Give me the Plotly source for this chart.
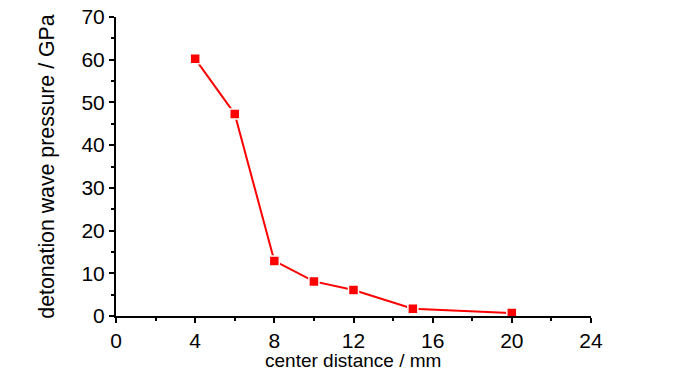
import plotly.graph_objects as go

center_distance_mm = [4, 6, 8, 10, 12, 15, 20]
pressure_gpa = [60.2, 47.3, 12.9, 8.1, 6.1, 1.7, 0.7]

x_tick_vals = [0, 4, 8, 12, 16, 20, 24]
y_tick_vals = [0, 10, 20, 30, 40, 50, 60, 70]

FONT = "Liberation Sans Narrow, Arial Narrow, Liberation Sans, Arial, sans-serif"

fig = go.Figure()
fig.add_trace(go.Scatter(
    x=center_distance_mm, y=pressure_gpa,
    mode="lines+markers",
    line=dict(color="#FF0000", width=2),
    marker=dict(symbol="square", size=10, color="#FF0000",
                line=dict(color="white", width=1.5)),
    showlegend=False,
    cliponaxis=False,
))

axis_common = dict(
    showgrid=False, zeroline=False, showline=True, linecolor="black", linewidth=2,
    ticks="outside", ticklen=5, tickwidth=2, tickcolor="black",
    tickfont=dict(family=FONT, size=21, color="black"),
    mirror=False, automargin=False, ticklabeloverflow="allow",
)

fig.update_xaxes(
    range=[0, 24], tickvals=x_tick_vals,
    minor=dict(dtick=2, ticks="outside", ticklen=3, tickwidth=2, tickcolor="black"),
    **axis_common,
)
fig.update_yaxes(
    range=[0, 70], tickvals=y_tick_vals,
    minor=dict(dtick=5, ticks="outside", ticklen=3, tickwidth=2, tickcolor="black"),
    **axis_common,
)

fig.add_annotation(
    text="center distance / mm", xref="paper", yref="paper",
    x=0.499, y=-0.148, xanchor="center", yanchor="middle", showarrow=False,
    font=dict(family=FONT, size=19, color="black"),
)
fig.add_annotation(
    text="detonation wave pressure / GPa", xref="paper", yref="paper",
    x=-0.147, y=0.5, xanchor="center", yanchor="middle", showarrow=False,
    textangle=-90,
    font=dict(family=FONT, size=21.3, color="black"),
)

fig.update_layout(
    width=700, height=374,
    margin=dict(l=116, r=109, t=17, b=58),
    plot_bgcolor="white", paper_bgcolor="white",
)

fig.write_html("out.html", config={"displayModeBar": False},
               post_script="document.body.style.margin='0';")
